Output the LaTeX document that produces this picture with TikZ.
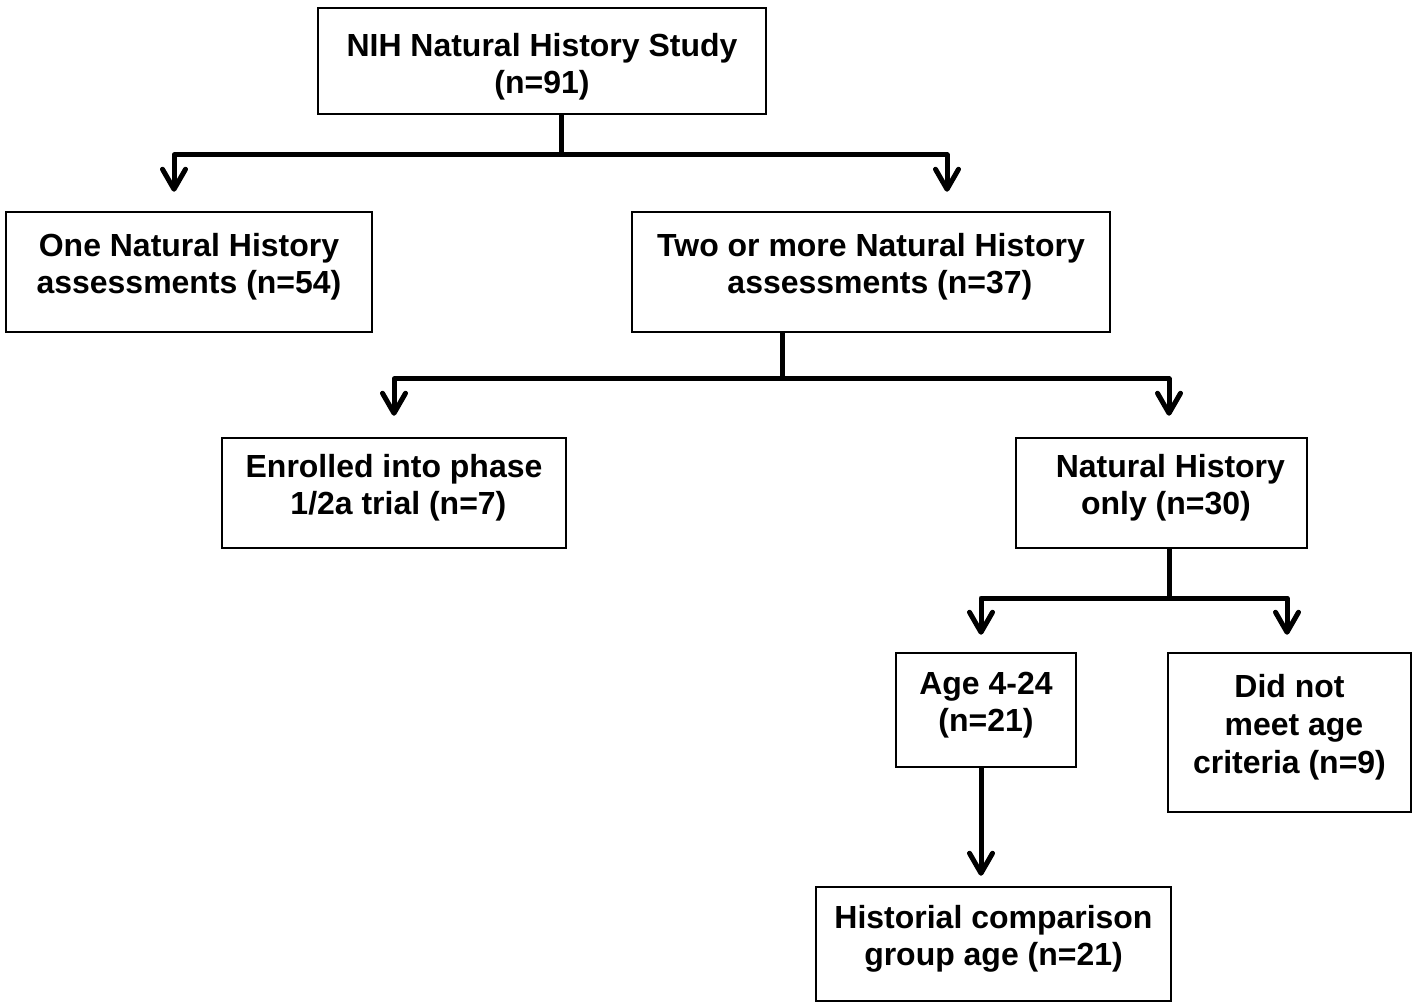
\documentclass[tikz,border=0pt]{standalone}
\usepackage{fontspec}
\setmainfont{Liberation Sans}
\usetikzlibrary{arrows.meta,calc}
\newcommand\px{0.02cm}
\newcommand\boxtext[2][-0.06cm]{\raisebox{#1}[0pt][0pt]{\begin{tabular}{@{}c@{}}#2\end{tabular}}}
\tikzset{
  stage/.style 2 args={draw, line width=0.05cm, inner sep=0pt,
    minimum width=#1*\px, minimum height=#2*\px,
    font=\fontsize{18.2}{21.6}\selectfont\bfseries},
  stem/.style={line width=0.1cm},
  branch/.style={line width=0.1cm, line join=round,
    -{Straight Barb[length=0.4cm,width=0.46cm,round]}},
}
\begin{document}
\begin{tikzpicture}[x=\px, y=-\px]
\useasboundingbox (0,0) rectangle (1413,1003);
%boxes, centre + size in px
\node[stage={448}{106}] (nih) at (542,61) {\boxtext[-0.28cm]{NIH Natural History Study\\(n=91)}};
\node[stage={366}{120}] (one) at (189,272) {\boxtext{One Natural History\\assessments (n=54)}};
\node[stage={478}{120}] (two) at (871,272) {\boxtext{Two or more Natural History\\\ \ assessments (n=37)}};
\node[stage={344}{110}] (trial) at (394,493) {\boxtext{Enrolled into phase\\\ 1/2a trial (n=7)}};
\node[stage={291}{110}] (nhonly) at (1161.5,493) {\boxtext{\ \ Natural History\\\ only (n=30)}};
\node[stage={180}{114}] (age) at (986,710) {\boxtext{Age 4-24\\(n=21)}};
\node[stage={243}{159}] (notmet) at (1289.5,732.5) {\boxtext{Did not\\\ meet age\\criteria (n=9)}};
\node[stage={355}{114}] (hist) at (993.5,944) {\boxtext{Historial comparison\\group age (n=21)}};
%
%      |
%   ___|___
%  v       v
%
\coordinate (fork1) at (561,155);
\coordinate (fork2) at (782,379);
\coordinate (fork3) at (1169,598);
%first split
\draw[stem] (nih.south -| fork1) -- (fork1);
\draw[branch, shorten >=0.38cm] (fork1) -| ($(one.north)+(-15,0)$);
\draw[branch, shorten >=0.38cm] (fork1) -| ($(two.north)+(76,0)$);
%second split
\draw[stem] (two.south -| fork2) -- (fork2);
\draw[branch, shorten >=0.42cm] (fork2) -| ($(trial.north)+(0,0)$);
\draw[branch, shorten >=0.42cm] (fork2) -| ($(nhonly.north)+(7.5,0)$);
%third split
\draw[stem] (nhonly.south -| fork3) -- (fork3);
\draw[branch, shorten >=0.34cm] (fork3) -| ($(age.north)+(-5,0)$);
\draw[branch, shorten >=0.34cm] (fork3) -| ($(notmet.north)+(-2.5,0)$);
%last one, straight down
\draw[branch, shorten >=0.2cm] ($(age.south)+(-5,0)$) -- ($(hist.north)+(-12.5,0)$);
\end{tikzpicture}
\end{document}
